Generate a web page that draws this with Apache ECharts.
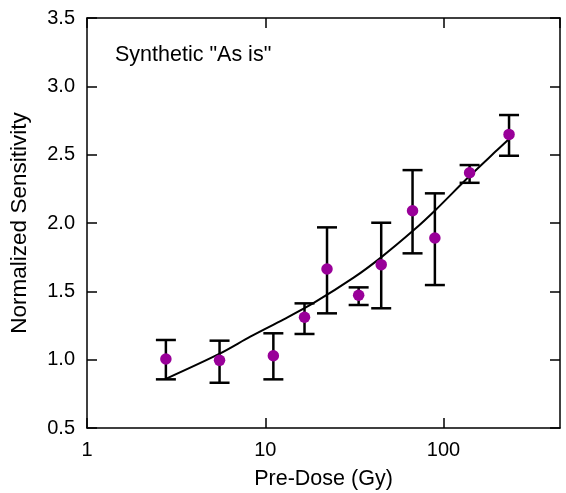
<!DOCTYPE html>
<html>
<head>
<meta charset="utf-8">
<script src="https://cdn.jsdelivr.net/npm/echarts@6/dist/echarts.min.js"></script>
<style>
html,body{margin:0;padding:0;background:#fff;}
#chart{width:566px;height:493px;}
</style>
</head>
<body>
<div id="chart"></div>
<script>
// Data
const doses = [2.77, 5.54, 11.1, 16.6, 22.2, 33.4, 44.7, 67.0, 89.4, 140, 233];
const sensitivity = [1.005, 0.995, 1.029, 1.31, 1.663, 1.471, 1.695, 2.09, 1.89, 2.368, 2.648];
const errLow = [0.856, 0.831, 0.856, 1.188, 1.339, 1.40, 1.376, 1.778, 1.546, 2.294, 2.492];
const errHigh = [1.144, 1.139, 1.193, 1.412, 1.968, 1.529, 2.002, 2.387, 2.217, 2.424, 2.79];
const fitDoses = [2.77, 5.59, 8.24, 12.7, 18.7, 31.3, 44.3, 68.1, 90.2, 135.9, 200, 233];
const fitValues = [0.86, 1.046, 1.168, 1.295, 1.415, 1.6, 1.745, 1.948, 2.095, 2.327, 2.534, 2.615];
const xTickLabels = ['1', '10', '100'];
const yTickLabels = ['0.5', '1.0', '1.5', '2.0', '2.5', '3.0', '3.5'];

const FONT = 'Liberation Sans, Arial, Helvetica, sans-serif';
const chart = echarts.init(document.getElementById('chart'), null, {renderer: 'canvas'});

const pointData = doses.map((d, i) => [d, sensitivity[i]]);
const errData = doses.map((d, i) => [d, errLow[i], errHigh[i]]);
const fitData = fitDoses.map((d, i) => [d, fitValues[i]]);

const axisLineStyle = {color: '#000', width: 1.5};

const option = {
  animation: false,
  backgroundColor: '#fff',
  title: {
    text: 'Synthetic "As is"',
    left: 110, top: 39,
    textStyle: {fontFamily: FONT, fontSize: 21.5, fontWeight: 'normal', color: '#000'}
  },
  grid: {left: 87, right: 6, top: 18, bottom: 65, containLabel: false, outerBoundsMode: 'none'},
  xAxis: [{
    type: 'log', logBase: 10, min: 1, max: 450,
    position: 'bottom',
    name: 'Pre-Dose (Gy)', nameLocation: 'middle', nameGap: 40,
    nameTextStyle: {fontFamily: FONT, fontSize: 21.5, color: '#000'},
    axisLine: {show: true, lineStyle: axisLineStyle},
    axisTick: {show: true, inside: true, length: 10, lineStyle: {color: '#000', width: 1.5}},
    minorTick: {show: false},
    splitLine: {show: false},
    axisLabel: {
      fontFamily: FONT, fontSize: 20, color: '#000', margin: 12,
      showMaxLabel: false,
      formatter: function (v) {
        const s = String(Math.round(v));
        return xTickLabels.indexOf(s) >= 0 ? s : '';
      }
    }
  }, {
    type: 'log', logBase: 10, min: 1, max: 450,
    position: 'top',
    axisLine: {show: true, lineStyle: axisLineStyle},
    axisTick: {show: true, inside: true, length: 10, lineStyle: {color: '#000', width: 1.5}},
    axisLabel: {show: false},
    splitLine: {show: false}
  }],
  yAxis: [{
    type: 'value', min: 0.5, max: 3.5, interval: 0.5,
    position: 'left',
    name: 'Normalized Sensitivity', nameLocation: 'middle', nameGap: 56,
    nameTextStyle: {fontFamily: FONT, fontSize: 22.5, color: '#000'},
    axisLine: {show: true, lineStyle: axisLineStyle},
    axisTick: {show: true, inside: true, length: 10, lineStyle: {color: '#000', width: 1.5}},
    splitLine: {show: false},
    axisLabel: {
      fontFamily: FONT, fontSize: 20, color: '#000', margin: 12,
      formatter: function (v) {
        const s = v.toFixed(1);
        return yTickLabels.indexOf(s) >= 0 ? s : '';
      }
    }
  }, {
    type: 'value', min: 0.5, max: 3.5, interval: 0.5,
    position: 'right',
    axisLine: {show: true, lineStyle: axisLineStyle},
    axisTick: {show: true, inside: true, length: 10, lineStyle: {color: '#000', width: 1.5}},
    axisLabel: {show: false},
    splitLine: {show: false}
  }],
  series: [{
    type: 'line',
    data: fitData,
    xAxisIndex: 0, yAxisIndex: 0,
    smooth: 0.3,
    symbol: 'none',
    lineStyle: {color: '#000', width: 2},
    z: 2
  }, {
    type: 'custom',
    xAxisIndex: 0, yAxisIndex: 0,
    data: errData,
    renderItem: function (params, api) {
      const x = api.value(0);
      const pLo = api.coord([x, api.value(1)]);
      const pHi = api.coord([x, api.value(2)]);
      const hw = 10;
      const st = {stroke: '#000', lineWidth: 2.5};
      return {
        type: 'group',
        children: [
          {type: 'line', shape: {x1: pLo[0], y1: pLo[1], x2: pHi[0], y2: pHi[1]}, style: st},
          {type: 'line', shape: {x1: pHi[0] - hw, y1: pHi[1], x2: pHi[0] + hw, y2: pHi[1]}, style: st},
          {type: 'line', shape: {x1: pLo[0] - hw, y1: pLo[1], x2: pLo[0] + hw, y2: pLo[1]}, style: st}
        ]
      };
    },
    z: 3
  }, {
    type: 'scatter',
    xAxisIndex: 0, yAxisIndex: 0,
    data: pointData,
    symbol: 'circle',
    symbolSize: 11.5,
    itemStyle: {color: '#990099', opacity: 1},
    z: 4
  }]
};
chart.setOption(option);
</script>
</body>
</html>
